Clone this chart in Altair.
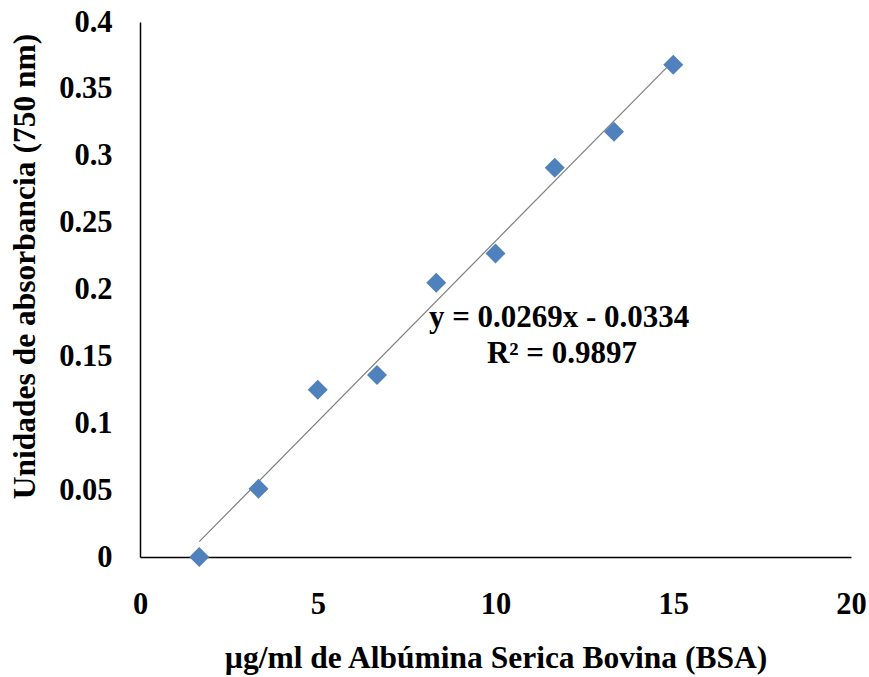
import altair as alt
import pandas as pd

# Data
conc_ug_ml = [1.667, 3.333, 5.0, 6.667, 8.333, 10.0, 11.667, 13.333, 15.0]
absorbance = [0.0, 0.051, 0.125, 0.136, 0.205, 0.227, 0.291, 0.318, 0.368]

eq_labels = ["y = 0.0269x - 0.0334", "R\u00b2 = 0.9897"]
eq_x = [11.79, 11.87]
eq_y = [0.172, 0.145]

FONT = "Liberation Serif"

df = pd.DataFrame({"x": conc_ug_ml, "y": absorbance})
lab = pd.DataFrame({"t": eq_labels, "x": eq_x, "y": eq_y})

xscale = alt.Scale(domain=[0, 20], nice=False, zero=True)
yscale = alt.Scale(domain=[0, 0.4], nice=False, zero=True)

xaxis = alt.Axis(
    title="\u00b5g/ml de Alb\u00famina Serica Bovina (BSA)",
    values=[0, 5, 10, 15, 20], grid=False, ticks=False,
    domainColor="black", domainWidth=1.5,
    labelFont=FONT, labelFontWeight="bold", labelFontSize=30.5, labelColor="black",
    labelBaseline="alphabetic", labelPadding=56, labelFlush=False,
    titleFont=FONT, titleFontWeight="bold", titleFontSize=31.5, titleColor="black",
    titleX=355.5, titleY=110, titleAlign="center", titleBaseline="alphabetic",
)
yaxis = alt.Axis(
    title="Unidades de absorbancia (750 nm)",
    values=[0, 0.05, 0.1, 0.15, 0.2, 0.25, 0.3, 0.35, 0.4], grid=False, ticks=False,
    domainColor="black", domainWidth=1.5,
    labelFont=FONT, labelFontWeight="bold", labelFontSize=30.5, labelColor="black",
    labelPadding=28, labelFlush=False, labelBaseline="middle",
    labelExpr="datum.value == 0 ? '0' : format(datum.value, '.2~f')",
    titleFont=FONT, titleFontWeight="bold", titleFontSize=31.5, titleColor="black",
    titleX=-115, titleY=244, titleAngle=270, titleAlign="center", titleBaseline="middle",
)

base = alt.Chart(df)

points = base.mark_point(shape="diamond", filled=True, size=400, opacity=1, color="#4F81BD").encode(
    x=alt.X("x:Q", scale=xscale, axis=xaxis),
    y=alt.Y("y:Q", scale=yscale, axis=yaxis),
)

trend = base.transform_regression("x", "y").mark_line(color="#7f7f7f", strokeWidth=1.2).encode(
    x=alt.X("x:Q", scale=xscale),
    y=alt.Y("y:Q", scale=yscale),
)

text = alt.Chart(lab).mark_text(font=FONT, fontWeight="bold", fontSize=31, color="black",
                                align="center", baseline="alphabetic").encode(
    x=alt.X("x:Q", scale=xscale),
    y=alt.Y("y:Q", scale=yscale),
    text="t:N",
)

chart = alt.layer(trend, points, text).properties(
    width=711, height=535,
    autosize=alt.AutoSizeParams(type="none"),
    padding={"left": 140, "top": 22, "right": 18, "bottom": 120},
    background="white",
).configure_view(stroke=None)

chart.save("out.html", embed_options={"renderer": "svg", "actions": False})
